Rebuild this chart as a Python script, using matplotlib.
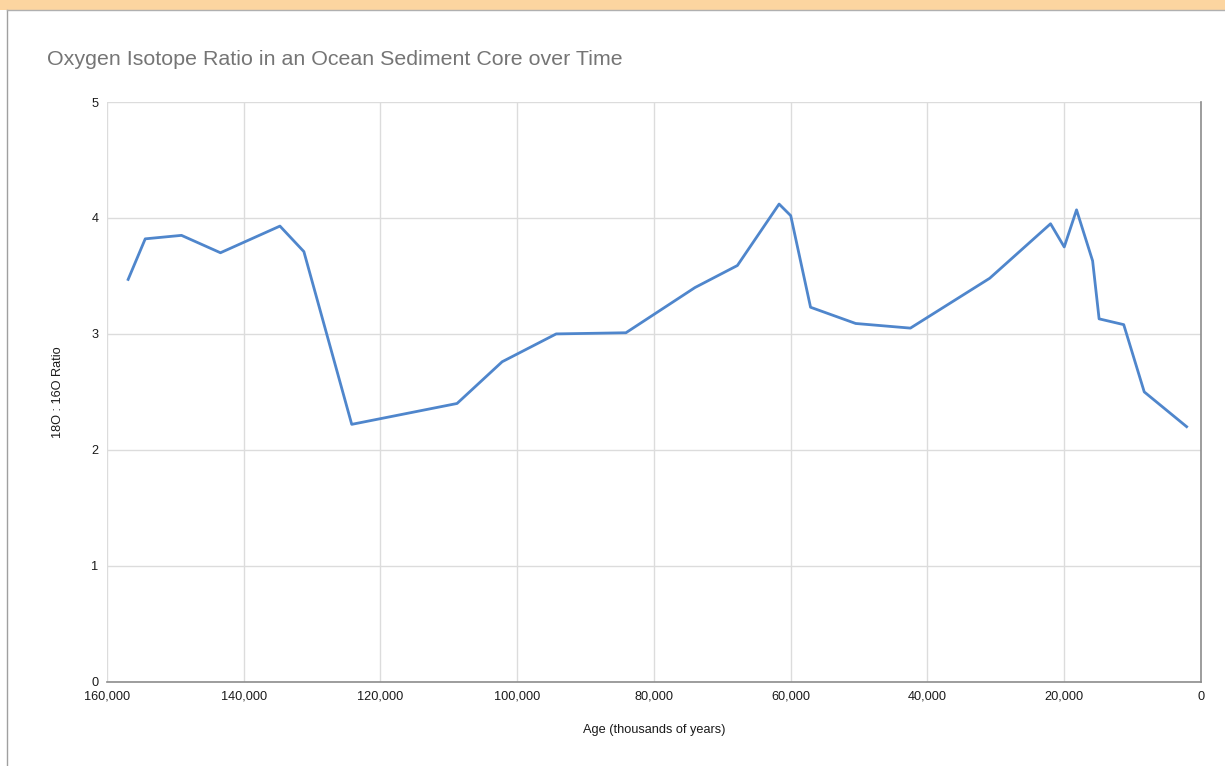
import matplotlib.pyplot as plt
from matplotlib.patches import Rectangle
from matplotlib.ticker import FuncFormatter

# age (years before present) and 18O:16O ratio
ages = [156900, 154400, 149100, 143400, 134700, 131200, 124200, 108800,
        102200, 94300, 84100, 74000, 67800, 61700, 60000, 57100, 50500,
        42500, 30900, 22000, 20000, 18200, 15850, 14900, 11300, 8300, 2100]
ratios = [3.47, 3.82, 3.85, 3.70, 3.93, 3.71, 2.22, 2.40,
          2.76, 3.00, 3.01, 3.40, 3.59, 4.12, 4.02, 3.23, 3.09,
          3.05, 3.48, 3.95, 3.75, 4.07, 3.63, 3.13, 3.08, 2.50, 2.20]

x_ticks = [160000, 140000, 120000, 100000, 80000, 60000, 40000, 20000, 0]
y_ticks = [0, 1, 2, 3, 4, 5]

plt.rcParams['font.family'] = ['Liberation Sans', 'DejaVu Sans']

fig = plt.figure(figsize=(12.25, 7.66), dpi=100)

# screenshot frame: orange band on top, grey border on the left
fig.patches.append(Rectangle((0, 0.987), 1, 0.013, transform=fig.transFigure,
                             facecolor='#fcd5a0', edgecolor='none'))
fig.lines.append(plt.Line2D([0.006, 0.006], [0, 0.987], transform=fig.transFigure,
                            color='#a0a0a0', lw=1))
fig.lines.append(plt.Line2D([0.006, 1], [0.987, 0.987], transform=fig.transFigure,
                            color='#b0b0b0', lw=1))

ax = fig.add_axes([0.0873, 0.110, 0.8931, 0.7568])
ax.plot(ages, ratios, color='#4f86cc', lw=2, solid_joinstyle='round')

ax.set_xlim(160000, 0)
ax.set_ylim(0, 5)
ax.set_xticks(x_ticks)
ax.set_yticks(y_ticks)
ax.xaxis.set_major_formatter(FuncFormatter(lambda v, p: f"{int(v):,}"))

ax.grid(True, color='#dcdcdc', lw=1)
ax.set_axisbelow(True)
for s in ['top', 'left']:
    ax.spines[s].set_visible(False)
for s in ['bottom', 'right']:
    ax.spines[s].set_color('#8c8c8c')
    ax.spines[s].set_linewidth(1.2)
ax.tick_params(length=0, labelsize=9.2, labelcolor='#1a1a1a')
ax.tick_params(axis='x', pad=6.5)
ax.tick_params(axis='y', pad=6)

ax.set_xlabel('Age (thousands of years)', fontsize=9.2, color='#1a1a1a', labelpad=15)
ax.set_ylabel('18O : 16O Ratio', fontsize=9.2, color='#1a1a1a', labelpad=20)

fig.text(0.038, 0.922, 'Oxygen Isotope Ratio in an Ocean Sediment Core over Time',
         fontsize=15.4, color='#757575', va='center', ha='left')

fig.savefig('out.png', dpi=100)
